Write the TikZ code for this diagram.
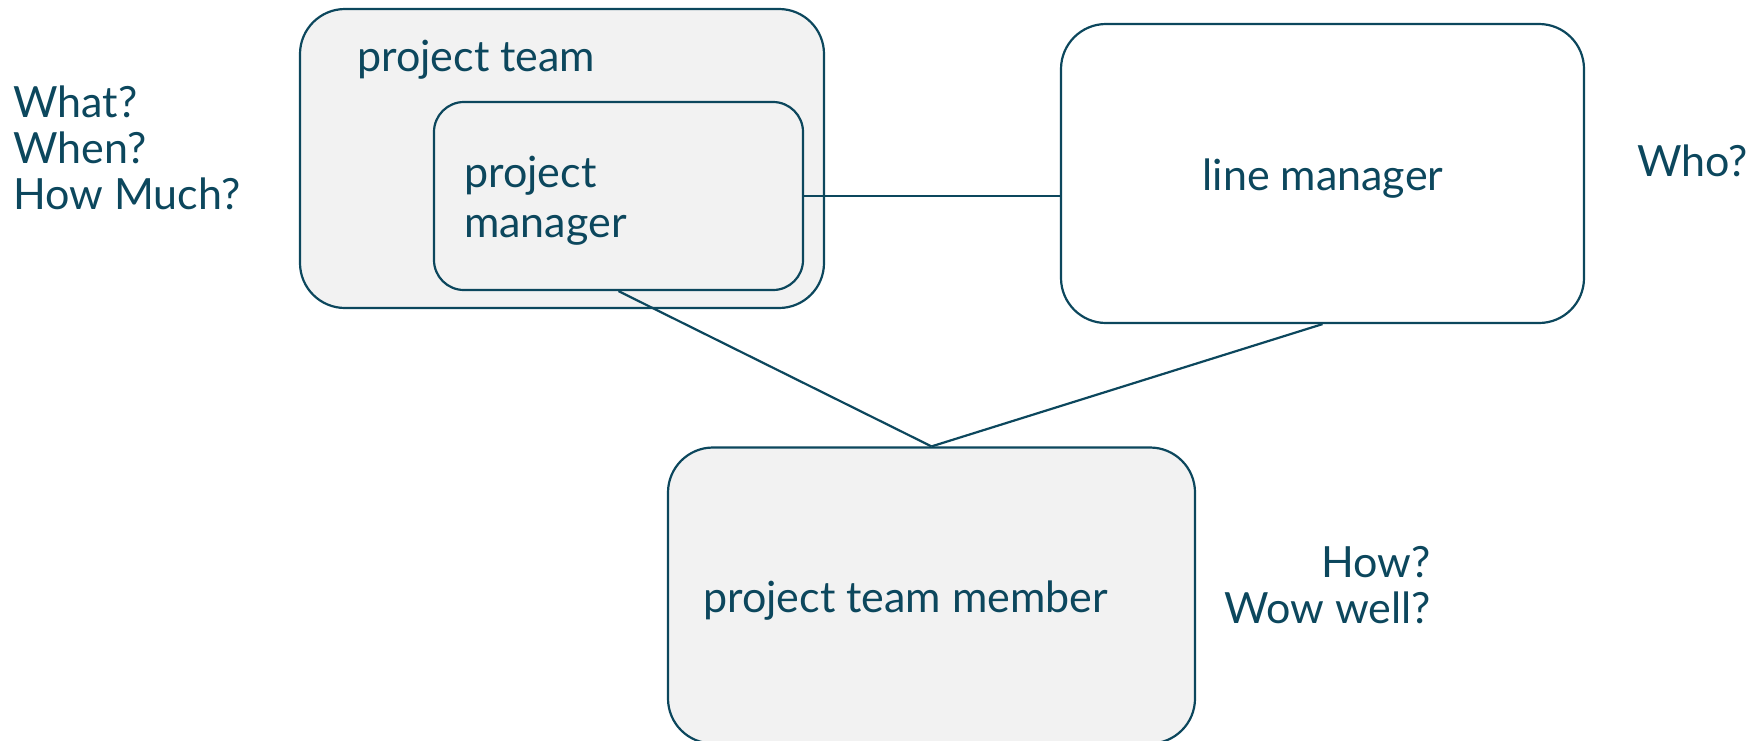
\documentclass[tikz,border=0pt]{standalone}
\usepackage{fontspec}
\setmainfont{Lato}
\usepackage{tikz}

\definecolor{teal}{RGB}{12,71,93}
\definecolor{boxgrey}{RGB}{242,242,242}

\begin{document}
\begin{tikzpicture}[x=1pt, y=-1pt,
  box/.style={draw=teal, line width=2.2pt, rectangle, rounded corners=45pt, inner sep=0pt},
  txt/.style={text=teal, inner sep=0pt, font=\fontsize{43}{46}\selectfont},
  link/.style={draw=teal, line width=2.2pt}]

\useasboundingbox (0,0) rectangle (1763,740);

% Project team with its manager
\node[box, fill=boxgrey, minimum width=524pt, minimum height=299pt] (team) at (562,158.5) {};
\node[box, fill=boxgrey, rounded corners=30pt, minimum width=369pt, minimum height=188pt] (pm) at (618.5,196) {};
\node[txt, anchor=base west] (teamlbl) at (357,71) {project team};
\node[txt, anchor=base west, align=left, font=\fontsize{43}{50}\selectfont] (pmlbl) at (464,237) {project\\manager};

% Line manager
\node[box, fill=white, minimum width=523pt, minimum height=299pt] (lm) at (1322.5,173.5) {};
\node[txt, anchor=base] (lmlbl) at (1323,190) {line manager};

% Team member
\node[box, fill=boxgrey, minimum width=527pt, minimum height=296pt] (member) at (931.5,595.5) {};
\node[txt, anchor=base west] (memberlbl) at (703,612) {project team member};

% Questions
\node[txt, anchor=base west, align=left] (what) at (13,209) {What?\\When?\\How Much?};
\node[txt, anchor=base west] (who) at (1637,176) {Who?};
\node[txt, anchor=base east, align=right] (how) at (1431,623) {How?\\Wow well?};

% Links
\draw[link] (pm.east) -- (pm.east -| lm.west);
\draw[link] (pm.south) -- (member.north);
\draw[link] (lm.south) -- (member.north);

\end{tikzpicture}
\end{document}
